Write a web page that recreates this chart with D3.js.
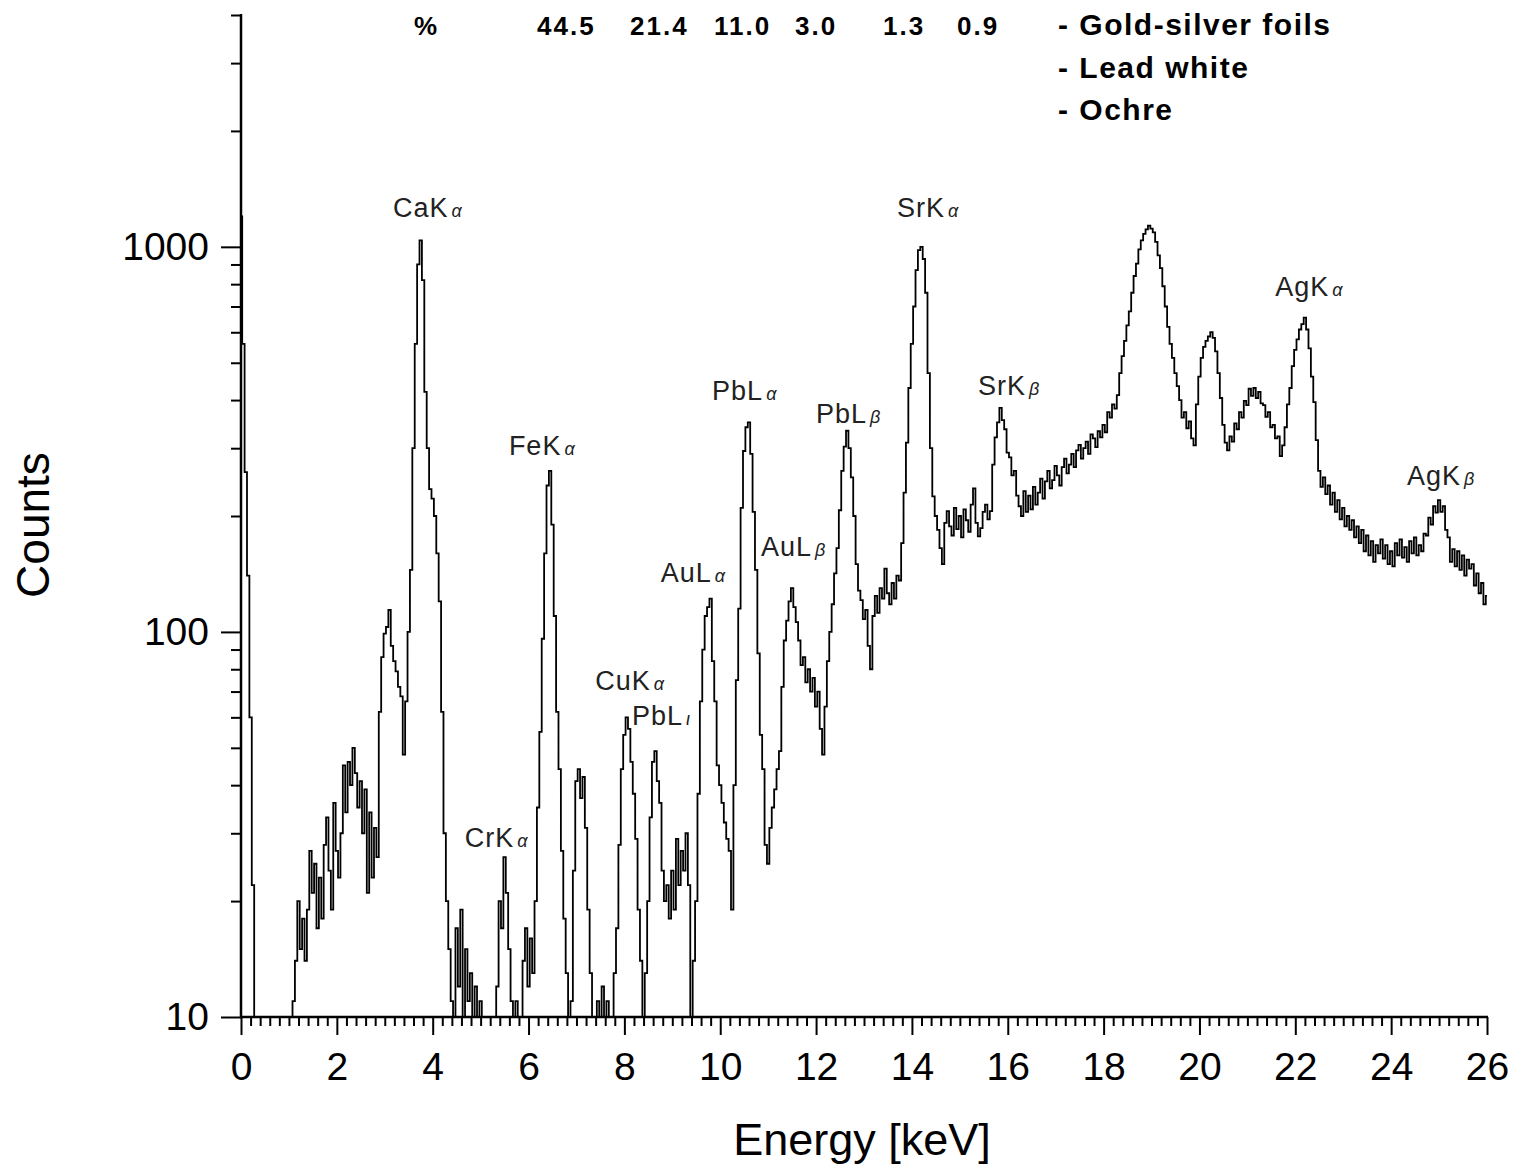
<!DOCTYPE html>
<html>
<head>
<meta charset="utf-8">
<title>XRF spectrum</title>
<script src="https://cdn.jsdelivr.net/npm/d3@7"></script>
<style>
  html, body { margin: 0; padding: 0; background: #fff; }
  svg { display: block; font-family: "Liberation Sans", Arial, Helvetica, sans-serif; }
</style>
</head>
<body>
<svg id="chart" width="1513" height="1168"></svg>
<script>
// ---- spectrum data -------------------------------------------------------
// channel width of the spectrum (keV); counts[i] belongs to energy i * channelWidth
const channelWidth = 0.05;

// counts per channel, 0.00 ... 26.00 keV (0 = below the 10-count floor of the plot)
const counts = [
  // 0.00 - 1.05
  1200, 560, 260, 140, 60, 22, 9, 0, 0, 0, 0, 0, 0, 0, 0, 0, 0, 0, 0, 0, 0, 0,
  // 1.10 - 2.85
  11, 14, 20, 15, 18, 14, 19, 27, 21, 25, 17, 23, 18, 28, 33, 24, 19, 36, 27, 23,
  30, 45, 34, 46, 40, 50, 43, 35, 41, 30, 39, 21, 34, 23, 31, 26,
  // 2.90 - 4.40  (Ca K)
  62, 86, 99, 103, 114, 92, 84, 79, 72, 68, 48, 66, 100, 145, 300, 560, 900, 1040, 820, 420,
  300, 235, 222, 200, 160, 120, 62, 30, 20, 15, 11,
  // 4.45 - 5.25
  9, 17, 12, 19, 10, 15, 11, 13, 0, 12, 0, 11, 0, 0, 0, 0, 0,
  // 5.30 - 6.90  (Cr K, Fe K)
  0, 12, 20, 17, 26, 21, 15, 11, 0, 11, 0, 0, 14, 17, 12, 16, 13, 20, 35, 55,
  96, 160, 240, 262, 190, 110, 62, 44, 27, 18, 13, 0, 11,
  // 6.95 - 7.85
  24, 41, 44, 37, 42, 31, 19, 13, 0, 0, 11, 0, 12, 0, 11, 0, 10, 13, 17,
  // 7.90 - 9.50  (Cu K, Pb Ll)
  28, 44, 54, 60, 56, 46, 38, 29, 19, 14, 0, 13, 20, 33, 46, 49, 41, 36, 24, 20,
  22, 18, 24, 19, 29, 22, 27, 24, 30, 22, 0, 14, 20,
  // 9.55 - 11.25  (Au La, Pb La)
  38, 66, 90, 110, 116, 122, 84, 66, 45, 40, 36, 32, 29, 27, 19, 40, 75, 115, 210, 295,
  340, 350, 290, 205, 145, 88, 54, 44, 28, 25, 31, 35, 39, 44, 49,
  // 11.30 - 12.90  (Au Lb, Pb Lb)
  72, 95, 107, 120, 130, 116, 106, 95, 82, 86, 74, 80, 70, 76, 64, 70, 56, 48, 64, 84,
  100, 118, 142, 165, 207, 262, 303, 333, 300, 252, 200, 150, 128,
  // 12.95 - 14.50  (Sr Ka)
  121, 108, 114, 92, 80, 110, 124, 112, 130, 122, 146, 126, 118, 134, 122, 140, 136, 170, 230, 310,
  430, 560, 700, 870, 980, 1000, 930, 760, 470, 300, 225, 200,
  // 14.55 - 15.65
  184, 165, 150, 192, 206, 188, 178, 210, 185, 200, 176, 208, 195, 182, 214, 236, 192, 177, 186, 205,
  214, 196, 206,
  // 15.70 - 16.20  (Sr Kb)
  272, 320, 350, 382, 355, 336, 292, 284, 255, 262, 226,
  // 16.25 - 18.30
  212, 200, 232, 205, 226, 208, 238, 214, 230, 250, 222, 246, 262, 236, 248, 270, 255, 240, 268, 282,
  258, 272, 290, 268, 296, 306, 282, 300, 312, 290, 326, 318, 302, 332, 320, 345, 330, 372, 360, 390,
  380, 412,
  // 18.35 - 19.90
  470, 520, 570, 625, 680, 760, 840, 905, 985, 1040, 1080, 1110, 1135, 1115, 1090, 1030, 950, 880, 790, 700,
  620, 560, 515, 470, 435, 400, 360, 372, 338, 352, 318, 305,
  // 19.95 - 22.45  (Ag Ka)
  390, 460, 515, 550, 570, 585, 600, 580, 535, 470, 405, 345, 310, 296, 322, 312, 348, 336, 372, 360,
  398, 388, 428, 410, 430, 405, 420, 392, 388, 362, 372, 340, 345, 318, 322, 286, 305, 340, 390, 430,
  490, 540, 575, 610, 630, 655, 610, 545, 460, 395, 315,
  // 22.50 - 26.00  (Ag Kb)
  262, 238, 252, 228, 240, 214, 230, 205, 220, 196, 210, 188, 200, 184, 195, 176, 188, 170, 184, 162,
  178, 158, 172, 152, 168, 160, 174, 155, 168, 150, 162, 148, 170, 158, 174, 156, 166, 152, 172, 160,
  176, 158, 168, 162, 180, 178, 198, 190, 212, 204, 220, 205, 212, 184, 176, 152, 164, 148, 162, 145,
  158, 140, 154, 146, 150, 132, 142, 126, 134, 118, 124
];

// axis ticks
const xTickValues = [0, 2, 4, 6, 8, 10, 12, 14, 16, 18, 20, 22, 24, 26];
const yTickValues = [10, 100, 1000];

// emission line labels: element + shell, line letter, anchor (keV, counts) of the text start
const lineLabels = [
  { name: "CaK", line: "α", keV: 3.17,  counts: 1197 },
  { name: "CrK", line: "α", keV: 4.67,  counts: 27.7 },
  { name: "FeK", line: "α", keV: 5.59,  counts: 288 },
  { name: "CuK", line: "α", keV: 7.39,  counts: 70.6 },
  { name: "PbL", line: "ι", keV: 8.16,  counts: 57.3 },
  { name: "AuL", line: "α", keV: 8.76,  counts: 135 },
  { name: "PbL", line: "α", keV: 9.83,  counts: 401 },
  { name: "AuL", line: "β", keV: 10.85, counts: 157 },
  { name: "PbL", line: "β", keV: 12.0,  counts: 349 },
  { name: "SrK", line: "α", keV: 13.69, counts: 1197 },
  { name: "SrK", line: "β", keV: 15.38, counts: 413 },
  { name: "AgK", line: "α", keV: 21.58, counts: 747 },
  { name: "AgK", line: "β", keV: 24.33, counts: 241 }
];

// composition row and identified materials
const percentLabel = "%";
const percentValues = ["44.5", "21.4", "11.0", "3.0", "1.3", "0.9"];
const materials = ["- Gold-silver foils", "- Lead white", "- Ochre"];

// ---- drawing ------------------------------------------------------------------
const svg = d3.select("#chart");
const plot = { left: 241, right: 1487, top: 15, bottom: 1017 };

const x = d3.scaleLinear().domain([0, 26]).range([plot.left, plot.right]);
const y = d3.scaleLog().domain([10, 4000]).range([plot.bottom, plot.top]);

svg.append("defs").append("clipPath").attr("id", "plot-clip")
  .append("rect")
  .attr("x", plot.left).attr("y", 0)
  .attr("width", plot.right - plot.left + 2)
  .attr("height", plot.bottom);

const spectrum = counts.map((c, i) => ({ keV: i * channelWidth, counts: c }));

const line = d3.line()
  .x(d => x(d.keV))
  .y(d => y(Math.max(d.counts, 8)))
  .curve(d3.curveStep);

svg.append("path")
  .datum(spectrum)
  .attr("clip-path", "url(#plot-clip)")
  .attr("fill", "none")
  .attr("stroke", "#000")
  .attr("stroke-width", 1.8)
  .attr("stroke-linejoin", "miter")
  .attr("d", line);

// x axis: major ticks every 2 keV, minor every 0.2 keV
const xAxisG = svg.append("g").attr("transform", `translate(0,${plot.bottom})`);
const xMinor = d3.range(0, 131).map(k => k * 0.2).filter(v => !xTickValues.some(t => Math.abs(t - v) < 1e-6));
xAxisG.call(d3.axisBottom(x).tickValues(xMinor).tickSize(9).tickFormat(""))
  .call(g => g.select(".domain").remove());
xAxisG.append("g").call(d3.axisBottom(x).tickValues(xTickValues).tickSize(18).tickFormat(d3.format("d")))
  .call(g => g.select(".domain").remove())
  .call(g => g.selectAll("text")
    .attr("font-family", "'Liberation Sans', Arial, sans-serif")
    .attr("font-size", 39).attr("fill", "#000").attr("y", 35).attr("dy", "0.71em"));
xAxisG.selectAll("line").attr("stroke", "#000").attr("stroke-width", 2);
xAxisG.append("line")
  .attr("x1", plot.left - 1).attr("x2", plot.right + 1)
  .attr("stroke", "#000").attr("stroke-width", 2.5);

// y axis: log decades with minor ticks 2..9
const yAxisG = svg.append("g").attr("transform", `translate(${plot.left},0)`);
const yMinor = [];
[10, 100, 1000].forEach(dec => { for (let k = 2; k <= 9; k++) if (k * dec <= 4000) yMinor.push(k * dec); });
yAxisG.call(d3.axisLeft(y).tickValues(yMinor).tickSize(10).tickFormat(""))
  .call(g => g.select(".domain").remove());
yAxisG.append("g").call(d3.axisLeft(y).tickValues(yTickValues).tickSize(20).tickFormat(d3.format("d")))
  .call(g => g.select(".domain").remove())
  .call(g => g.selectAll("text")
    .attr("font-family", "'Liberation Sans', Arial, sans-serif")
    .attr("font-size", 39).attr("fill", "#000").attr("x", -32));
yAxisG.selectAll("line").attr("stroke", "#000").attr("stroke-width", 2);
yAxisG.append("line")
  .attr("y1", plot.top - 1).attr("y2", plot.bottom + 1)
  .attr("stroke", "#000").attr("stroke-width", 2.5);

// axis titles
svg.append("text")
  .attr("x", 862).attr("y", 1155)
  .attr("text-anchor", "middle")
  .attr("font-size", 45).attr("fill", "#000")
  .text("Energy [keV]");

svg.append("text")
  .attr("transform", `translate(49,525) rotate(-90)`)
  .attr("text-anchor", "middle")
  .attr("font-size", 46).attr("fill", "#000")
  .text("Counts");

// emission line labels
const labelG = svg.append("g").attr("fill", "#222");
lineLabels.forEach(l => {
  const t = labelG.append("text")
    .attr("x", x(l.keV)).attr("y", y(l.counts))
    .attr("font-size", 27).attr("letter-spacing", 1);
  t.append("tspan").text(l.name);
  t.append("tspan").attr("font-size", 18).attr("font-style", "italic").attr("dx", 3).text(l.line);
});

// composition row
const header = svg.append("g").attr("fill", "#000").attr("font-weight", "bold");
header.append("text").attr("x", 414).attr("y", 35).attr("font-size", 26).text(percentLabel);
const percentX = [537, 630, 714, 795, 883, 957];
percentValues.forEach((v, i) => {
  header.append("text").attr("x", percentX[i]).attr("y", 35)
    .attr("font-size", 26).attr("letter-spacing", 2).text(v);
});

// materials list
materials.forEach((m, i) => {
  header.append("text")
    .attr("x", 1058).attr("y", 35 + i * 42.5)
    .attr("font-size", 30)
    .attr("letter-spacing", 1.5)
    .text(m);
});
</script>
</body>
</html>
